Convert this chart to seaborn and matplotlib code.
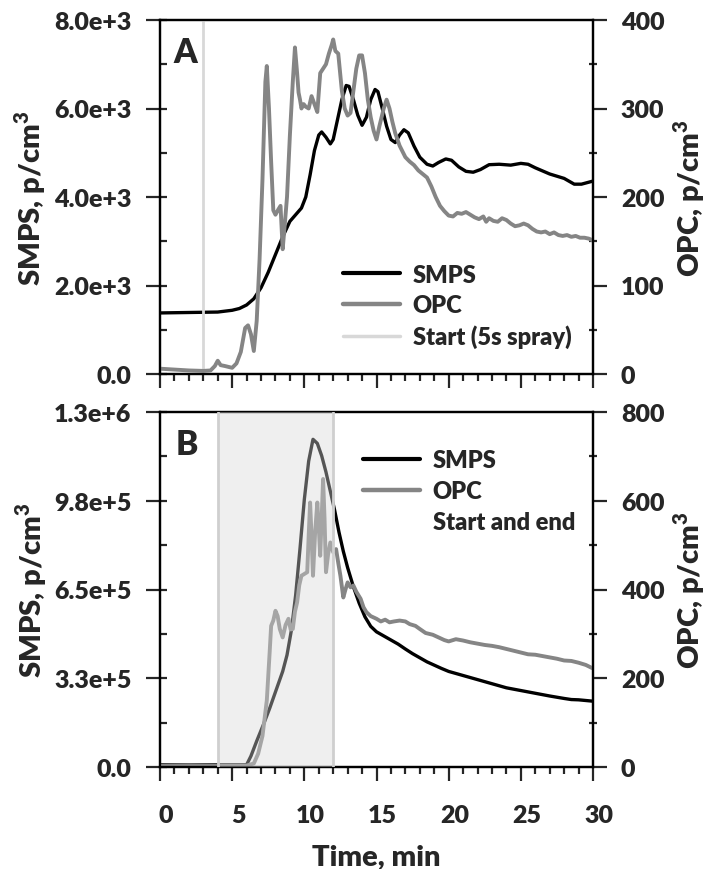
import matplotlib
matplotlib.use("Agg")
import matplotlib.pyplot as plt
import seaborn as sns
from matplotlib.ticker import MultipleLocator
from matplotlib.lines import Line2D
from matplotlib.transforms import ScaledTranslation

# ---------------- data ----------------
# Panel A
smps_a_t = [0, 2, 4, 5, 5.5, 6, 6.5, 7, 7.5, 8, 8.5, 9, 9.4, 9.8, 10.1, 10.4, 10.7, 11.0, 11.2,
            11.5, 11.8, 12.0, 12.3, 12.6, 12.9, 13.1, 13.4, 13.7, 14.0, 14.3, 14.6, 14.9, 15.1,
            15.4, 15.7, 16.0, 16.3, 16.6, 16.9, 17.2, 17.6, 18.0, 18.5, 18.9, 19.3, 19.8, 20.2,
            20.7, 21.2, 21.7, 22.2, 22.8, 23.5, 24.3, 25.0, 25.5, 26.0, 27.0, 28.0, 28.7, 29.2, 30.0]
smps_a = [1380, 1390, 1400, 1440, 1480, 1560, 1700, 1950, 2300, 2700, 3100, 3450, 3600, 3750,
          4000, 4500, 5050, 5400, 5470, 5350, 5200, 5300, 5750, 6200, 6520, 6500, 6200, 5850,
          5620, 5800, 6200, 6430, 6380, 6000, 5600, 5300, 5230, 5400, 5520, 5450, 5150, 4900,
          4740, 4700, 4780, 4860, 4830, 4680, 4580, 4560, 4620, 4730, 4740, 4720, 4760, 4740,
          4660, 4520, 4420, 4290, 4290, 4360]

opc_a_t = [0, 1, 2, 3, 3.5, 3.8, 4.0, 4.2, 4.5, 5.0, 5.3, 5.6, 5.9, 6.1, 6.3, 6.5, 6.7, 6.9,
           7.1, 7.3, 7.4, 7.55, 7.7, 7.85, 8.0, 8.2, 8.35, 8.5, 8.65, 8.8, 9.0, 9.2, 9.35, 9.5,
           9.6, 9.7, 9.8, 9.95, 10.1, 10.3, 10.5, 10.7, 10.9, 11.1, 11.3, 11.5, 11.7, 11.9, 12.0,
           12.15, 12.35, 12.6, 12.8, 13.0, 13.2, 13.4, 13.6, 13.8, 14.0, 14.2, 14.4, 14.6, 14.8,
           15.0, 15.2, 15.5, 15.7, 15.9, 16.1, 16.3, 16.6, 17.0, 17.3, 17.6, 17.9, 18.2, 18.5,
           18.8, 19.1, 19.4, 19.7, 20.0, 20.3, 20.6, 20.9, 21.2, 21.5, 21.8, 22.1, 22.4, 22.6,
           22.8, 23.1, 23.4, 23.7, 24.0, 24.3, 24.6, 24.9, 25.2, 25.5, 25.8, 26.1, 26.4, 26.7,
           27.0, 27.3, 27.6, 27.9, 28.2, 28.5, 28.8, 29.1, 29.4, 29.7, 30.0]
opc_a = [6, 5, 4, 3.5, 4, 9, 15, 10, 9, 7, 12, 25, 52, 55, 45, 26, 60, 130,
         220, 330, 348, 300, 240, 185, 180, 186, 190, 141, 170, 200, 270, 330, 369, 340,
         318, 310, 300, 305, 302, 300, 314, 305, 296, 340, 345, 350, 362, 372, 378,
         365, 362, 320, 300, 292, 295, 320, 345, 360, 360, 340, 310, 290, 275,
         265, 280, 300, 310, 300, 285, 272, 258, 245, 240, 236, 230, 226, 222,
         212, 200, 190, 184, 179, 178, 182, 181, 183, 180, 177, 175, 178, 172,
         176, 173, 172, 176, 174, 170, 167, 168, 170, 168, 164, 161, 160, 161,
         158, 160, 157, 156, 157, 155, 156, 154, 154, 153, 151]

start_a = [3.0]

# Panel B
smps_b_t = [0, 3, 5, 6.0, 6.3, 6.7, 7.2, 7.6, 8.0, 8.5, 8.8, 9.1, 9.4, 9.7, 10.0, 10.3, 10.6,
            10.9, 11.2, 11.5, 11.8, 12.1, 12.4, 12.7, 13.0, 13.4, 13.8, 14.2, 14.6, 15.0, 15.5,
            16.0, 16.5, 17.0, 17.5, 18.0, 18.5, 19.0, 19.5, 20.0, 21.0, 22.0, 23.0, 24.0, 25.0,
            26.0, 27.0, 28.0, 28.5, 29.0, 30.0]
smps_b = [8000, 8000, 8000, 8000, 40000, 95000, 160000, 215000, 275000, 350000, 410000, 500000,
          630000, 800000, 980000, 1120000, 1200000, 1185000, 1140000, 1080000, 1010000, 940000,
          860000, 790000, 730000, 660000, 600000, 550000, 515000, 495000, 480000, 465000, 450000,
          432000, 415000, 400000, 385000, 373000, 361000, 350000, 335000, 320000, 305000,
          290000, 280000, 270000, 260000, 251000, 247000, 246000, 241000]

opc_b_t = [0, 2, 4, 6.0, 6.5, 6.8, 7.1, 7.4, 7.6, 7.7, 7.85, 8.0, 8.15, 8.3, 8.5, 8.7, 8.9,
           9.05, 9.2, 9.35, 9.5, 9.65, 9.8, 10.0, 10.2, 10.3, 10.4, 10.5, 10.6, 10.75, 10.9,
           11.0, 11.1, 11.2, 11.3, 11.4, 11.5, 11.65, 11.8, 12.0, 12.2, 12.35, 12.5, 12.7,
           12.85, 13.0, 13.2, 13.4, 13.6, 13.9, 14.1, 14.3, 14.6, 15.0, 15.3, 15.6, 15.9, 16.2,
           16.6, 17.0, 17.3, 17.7, 18.0, 18.4, 18.9, 19.3, 19.7, 20.0, 20.5, 21.0, 21.5, 22.0,
           22.5, 23.0, 23.5, 24.0, 24.5, 25.0, 25.5, 26.0, 26.5, 27.0, 27.5, 28.0, 28.5, 29.0,
           29.5, 30.0]
opc_b = [3, 4, 3, 3, 8, 30, 70, 150, 260, 318, 330, 352, 340, 311, 292, 320, 334,
         310, 311, 350, 371, 410, 431, 435, 439, 520, 596, 520, 431, 530, 596,
         540, 476, 560, 649, 560, 439, 480, 506, 484, 491, 460, 431, 382,
         400, 416, 405, 409, 395, 379, 360, 349, 340, 334, 328, 332, 326, 328,
         330, 328, 322, 318, 311, 302, 298, 292, 286, 283, 288, 285, 281, 278,
         275, 273, 270, 266, 262, 258, 254, 253, 250, 247, 244, 240, 239, 235,
         230, 222]

start_end_b = [4.0, 12.0]

# ticks / labels
x_ticks = [0, 5, 10, 15, 20, 25, 30]
smps_a_ticks = [0, 2000, 4000, 6000, 8000]
smps_a_labels = ["0.0", "2.0e+3", "4.0e+3", "6.0e+3", "8.0e+3"]
opc_a_ticks = [0, 100, 200, 300, 400]
smps_b_ticks = [0, 325000, 650000, 975000, 1300000]
smps_b_labels = ["0.0", "3.3e+5", "6.5e+5", "9.8e+5", "1.3e+6"]
opc_b_ticks = [0, 200, 400, 600, 800]

# ---------------- style ----------------
sns.set_style("ticks")
plt.rcParams["font.family"] = ["Lato", "DejaVu Sans"]
plt.rcParams["font.weight"] = "heavy"
plt.rcParams["axes.labelweight"] = "heavy"
plt.rcParams["mathtext.fontset"] = "custom"
plt.rcParams["mathtext.bf"] = "Lato:heavy"
plt.rcParams["mathtext.rm"] = "Lato:heavy"

TICK_FS = 18
LABEL_FS = 21
LEG_FS = 17
C_SMPS = "#000000"
C_OPC = "#858585"
C_START = "#d8d8d8"

fig = plt.figure(figsize=(7.07, 8.70), dpi=100)
axA = fig.add_axes([160 / 707, 1 - 375 / 870, 433 / 707, 354 / 870])
axB = fig.add_axes([160 / 707, 1 - 768 / 870, 433 / 707, 355 / 870])
axA2 = axA.twinx()
axB2 = axB.twinx()


def style(ax, ax2, lticks, llabels, lmax, lminor, rticks, rmax, rminor, show_x):
    ax.set_xlim(0, 30)
    ax.set_ylim(0, lmax)
    ax2.set_ylim(0, rmax)
    ax.set_xticks(x_ticks)
    ax.xaxis.set_minor_locator(MultipleLocator(1))
    ax.set_yticks(lticks)
    ax.set_yticklabels(llabels)
    ax.yaxis.set_minor_locator(MultipleLocator(lminor))
    ax.yaxis.remove_overlapping_locs = False
    ax2.set_yticks(rticks)
    ax2.yaxis.set_minor_locator(MultipleLocator(rminor))
    for a in (ax, ax2):
        for s in a.spines.values():
            s.set_linewidth(1.6)
            s.set_color("black")
    ax.tick_params(axis="x", which="major", direction="out", length=10, width=1.6,
                   labelsize=TICK_FS, pad=17, top=False, labelbottom=show_x)
    ax.tick_params(axis="x", which="minor", direction="out", length=5, width=1.6, top=False)
    ax.tick_params(axis="y", which="major", direction="out", length=10, width=1.6,
                   labelsize=TICK_FS, pad=10.5)
    ax.tick_params(axis="y", which="minor", direction="in", length=5, width=1.6)
    ax2.tick_params(axis="y", which="major", direction="out", length=10, width=1.6,
                    labelsize=TICK_FS, pad=10)
    ax2.tick_params(axis="y", which="minor", direction="inout", length=6, width=1.6)
    if show_x:
        off = ScaledTranslation(6 / 100, 0, fig.dpi_scale_trans)
        for lab in ax.get_xticklabels():
            lab.set_transform(lab.get_transform() + off)


def legend(ax, handles, labels, x, y):
    ax.legend(handles, labels, loc="center left", bbox_to_anchor=(x, y), frameon=False,
              fontsize=LEG_FS, handlelength=2.4, handletextpad=0.55, labelspacing=0.36,
              borderpad=0, borderaxespad=0)


# ---------------- panel A ----------------
sns.lineplot(x=smps_a_t, y=smps_a, ax=axA, color=C_SMPS, linewidth=2.4, legend=False)
for t in start_a:
    axA2.axvline(t, color=C_START, linewidth=2.0, zorder=1)
sns.lineplot(x=opc_a_t, y=opc_a, ax=axA2, color=C_OPC, linewidth=2.8, legend=False, zorder=2)
style(axA, axA2, smps_a_ticks, smps_a_labels, 8000, 1000, opc_a_ticks, 400, 50, False)
axA.set_ylabel(r"SMPS, p/cm$^{\mathbf{3}}$", fontsize=LABEL_FS, labelpad=4)
axA2.set_ylabel(r"OPC, p/cm$^{\mathbf{3}}$", fontsize=LABEL_FS, labelpad=5)
axA.text(0.03, 0.881, "A", transform=axA.transAxes, fontsize=24, fontweight="heavy",
         ha="left", va="baseline")
handlesA = [Line2D([], [], color=C_SMPS, lw=3.0),
            Line2D([], [], color=C_OPC, lw=3.2),
            Line2D([], [], color=C_START, lw=2.5)]
legend(axA2, handlesA, ["SMPS", "OPC", "Start (5s spray)"],
       (343 - 160) / 433, 1 - (307 - 21) / 354)

# ---------------- panel B ----------------
sns.lineplot(x=smps_b_t, y=smps_b, ax=axB, color=C_SMPS, linewidth=2.4, legend=False)
sns.lineplot(x=opc_b_t, y=opc_b, ax=axB2, color=C_OPC, linewidth=2.8, legend=False, zorder=2)
axB2.axvspan(start_end_b[0], start_end_b[1], color="#d7d7d7", alpha=0.4, lw=0, zorder=5)
for t in start_end_b:
    axB2.axvline(t, color="#cfcfcf", linewidth=2.0, zorder=6)
style(axB, axB2, smps_b_ticks, smps_b_labels, 1300000, 162500, opc_b_ticks, 800, 100, True)
axB.set_ylabel(r"SMPS, p/cm$^{\mathbf{3}}$", fontsize=LABEL_FS, labelpad=4)
axB2.set_ylabel(r"OPC, p/cm$^{\mathbf{3}}$", fontsize=LABEL_FS, labelpad=5)
axB.set_xlabel("Time, min", fontsize=LABEL_FS, labelpad=12)
axB.text(0.035, 0.882, "B", transform=axB.transAxes, fontsize=24, fontweight="heavy",
         ha="left", va="baseline")
handlesB = [Line2D([], [], color=C_SMPS, lw=3.0),
            Line2D([], [], color=C_OPC, lw=3.2),
            Line2D([], [], color="none", lw=3.0)]
legend(axB2, handlesB, ["SMPS", "OPC", "Start and end"],
       (363 - 160) / 433, 1 - (492 - 413) / 355)

fig.savefig("out.png", dpi=100)
